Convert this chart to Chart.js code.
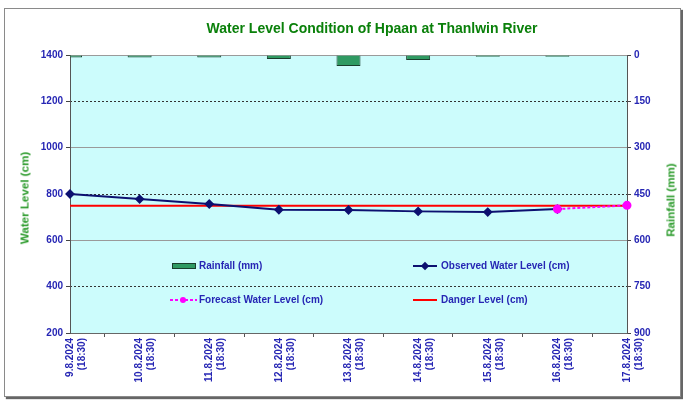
<!DOCTYPE html>
<html><head><meta charset="utf-8">
<script src="https://cdn.jsdelivr.net/npm/chart.js@4.4.1/dist/chart.umd.min.js"></script>
<style>
html,body{margin:0;padding:0;background:#fff;overflow:hidden}
#wrap{position:relative;width:683px;height:400px;overflow:hidden;font-family:"Liberation Sans",Arial,sans-serif}
#frame{position:absolute;left:4px;top:8px;width:675px;height:387px;border:1px solid #8a8a8a;box-shadow:2px 2px 1px #666;}
#c{position:absolute;left:0;top:0}
.txt{position:absolute;font-weight:bold;white-space:nowrap}
#title{left:372px;top:20px;transform:translateX(-50%);font-size:14px;color:#0a800a}
.ytitle{font-size:11.6px;color:#2a9a2a;transform:translate(-50%,-50%) rotate(-90deg)}
.leg{position:absolute;font-size:10px;font-weight:bold;color:#2626b4;white-space:nowrap;line-height:12px}
.sw{position:absolute;}
</style></head>
<body><div id="wrap">
<div id="frame"></div>
<canvas id="c" width="683" height="400"></canvas>
<div id="title" class="txt">Water Level Condition of Hpaan at Thanlwin River</div>
<div class="txt ytitle" style="left:24px;top:198px">Water Level (cm)</div>
<div class="txt ytitle" style="left:670px;top:200px">Rainfall (mm)</div>
<div id="legend"></div>
</div>
<script>
const dates = ['9.8.2024','10.8.2024','11.8.2024','12.8.2024','13.8.2024','14.8.2024','15.8.2024','16.8.2024','17.8.2024'];
const times = ['(18:30)','(18:30)','(18:30)','(18:30)','(18:30)','(18:30)','(18:30)','(18:30)','(18:30)'];
const rainfall = [8, 8, 8, 13, 36, 16, 6, 6, 0];
const observed = [800, 778, 757, 732, 731, 725, 722, 735, null];
const forecast = [null, null, null, null, null, null, null, 735, 751];
const danger = [749, 749, 749, 749, 749, 749, 749, 749, 749];
const waterMin = 200, waterMax = 1400, waterStep = 200;
const rainMin = 0, rainMax = 900, rainStep = 150;
const dashedGrid = [400, 800, 1200];
const solidGrid = [600, 1000, 1400];

const labels = dates.map((d, i) => [d, times[i]]);
const tickFont = {family: '"Liberation Sans", Arial, sans-serif', size: 10, weight: 'bold'};
const tickColor = '#2626b4';

const bgPlugin = {
  id: 'bg',
  beforeDraw(chart) {
    const a = chart.chartArea, ctx = chart.ctx;
    ctx.save();
    ctx.fillStyle = '#ccfcfc';
    ctx.fillRect(a.left, a.top, a.right - a.left, a.bottom - a.top);
    ctx.restore();
  }
};

const chart = new Chart(document.getElementById('c'), {
  data: {
    labels: labels,
    datasets: [
      {type: 'bar', label: 'Rainfall (mm)', data: rainfall, yAxisID: 'yR',
       backgroundColor: '#2f9a62', borderColor: '#1a3d2c', borderWidth: 1,
       categoryPercentage: 1, barPercentage: 0.345, order: 3},
      {type: 'line', label: 'Observed Water Level (cm)', data: observed, yAxisID: 'y',
       borderColor: '#0c1070', backgroundColor: '#0c1070', borderWidth: 2,
       pointStyle: 'rectRot', pointRadius: 3.5, tension: 0, clip: false, order: 1},
      {type: 'line', label: 'Forecast Water Level (cm)', data: forecast, yAxisID: 'y',
       borderColor: '#ff00ff', backgroundColor: '#ff00ff', borderWidth: 2, borderDash: [3, 2],
       pointStyle: 'circle', pointRadius: 3.5, tension: 0, clip: false, order: 0},
      {type: 'line', label: 'Danger Level (cm)', data: danger, yAxisID: 'y',
       borderColor: '#ff0000', backgroundColor: '#ff0000', borderWidth: 2, pointRadius: 0, tension: 0, order: 2}
    ]
  },
  options: {
    responsive: false,
    animation: false,
    events: [],
    layout: {padding: {top: 55, left: 0, right: 0, bottom: 0}},
    plugins: {legend: {display: false}, title: {display: false}, tooltip: {enabled: false}},
    scales: {
      x: {
        type: 'category', offset: false,
        grid: {drawOnChartArea: false, drawTicks: true, tickLength: 4, color: '#555'},
        border: {color: '#666', width: 1},
        ticks: {font: tickFont, color: tickColor, minRotation: 90, maxRotation: 90, autoSkip: false, padding: 1},
        afterFit(s) { s.height = 67; }
      },
      y: {
        type: 'linear', position: 'left', min: waterMin, max: waterMax,
        ticks: {stepSize: waterStep, font: tickFont, color: tickColor, padding: 3, callback: v => String(v)},
        grid: {
          color: ctx => solidGrid.includes(ctx.tick && ctx.tick.value) ? '#9a9a9a' : 'rgba(0,0,0,0)',
          tickColor: '#444', tickLength: 4, lineWidth: 1
        },
        border: {color: '#555', width: 1},
        afterFit(s) { s.width = 70; }
      },
      yG: {
        type: 'linear', position: 'left', min: waterMin, max: waterMax,
        afterBuildTicks(s) { s.ticks = dashedGrid.map(v => ({value: v})); },
        ticks: {display: false},
        grid: {color: '#333', drawTicks: false, lineWidth: 1},
        border: {display: false, dash: [2, 2]},
        afterFit(s) { s.width = 0; }
      },
      yR: {
        type: 'linear', position: 'right', min: rainMin, max: rainMax, reverse: true,
        ticks: {stepSize: rainStep, font: tickFont, color: tickColor, padding: 3, callback: v => String(v)},
        grid: {drawOnChartArea: false, tickColor: '#444', tickLength: 4},
        border: {color: '#555', width: 1},
        afterFit(s) { s.width = 56; }
      }
    }
  },
  plugins: [bgPlugin]
});

// Legend built from the chart's datasets
const legendItems = [
  {ds: 0, x: 172, y: 266, kind: 'box'},
  {ds: 1, x: 413, y: 266, kind: 'line'},
  {ds: 2, x: 170, y: 300, kind: 'dash'},
  {ds: 3, x: 413, y: 300, kind: 'plain'}
];
const lg = document.getElementById('legend');
legendItems.forEach(it => {
  const ds = chart.data.datasets[it.ds];
  let html = '';
  if (it.kind === 'box') {
    html += `<div class="sw" style="left:${it.x}px;top:${it.y-3}px;width:22px;height:4px;background:${ds.backgroundColor};border:1px solid ${ds.borderColor}"></div>`;
  } else {
    const w = it.kind === 'dash' ? 27 : 24;
    const bg = it.kind === 'dash'
      ? `background:repeating-linear-gradient(90deg, ${ds.borderColor} 0 3px, transparent 3px 5px);`
      : `background:${ds.borderColor};`;
    html += `<div class="sw" style="left:${it.x}px;top:${it.y-1}px;width:${w}px;height:2px;${bg}"></div>`;
    if (it.kind !== 'plain') {
      const cx = it.x + (it.kind === 'dash' ? 13 : 12);
      const r = it.kind === 'dash' ? 'border-radius:50%;' : 'transform:rotate(45deg);';
      html += `<div class="sw" style="left:${cx-3}px;top:${it.y-3}px;width:6px;height:6px;background:${ds.backgroundColor};${r}"></div>`;
    }
  }
  const tx = it.kind === 'dash' ? it.x + 29 : (it.kind === 'box' ? it.x + 27 : it.x + 28);
  html += `<div class="leg" style="left:${tx}px;top:${it.y-6}px">${ds.label}</div>`;
  lg.insertAdjacentHTML('beforeend', html);
});
</script>
</body></html>
